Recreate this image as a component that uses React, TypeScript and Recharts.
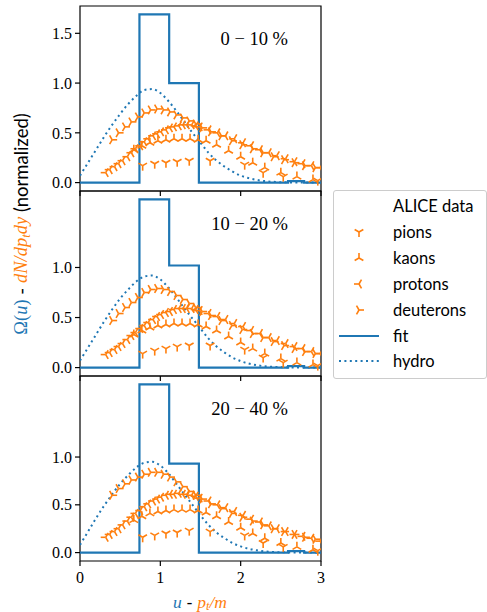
import React from 'react';
import { ComposedChart, Line, Scatter, XAxis, YAxis, ReferenceArea } from 'recharts';

const BLUE = '#1f77b4';
const ORANGE = '#ff7f0e';
const SERIF = '"Liberation Serif", "DejaVu Serif", serif';
const SANS = 'Lato, "Open Sans", sans-serif';

const xTicks = [0, 1, 2, 3];
const yTicksTop = [0, 0.5, 1, 1.5];
const yTicksLower = [0, 0.5, 1];
const panelLabels = ['0 − 10 %', '10 − 20 %', '20 − 40 %'];

// fit histogram (step edges)
const fitEdges = [0, 0.74, 1.11, 1.48, 2.59, 2.79, 3.0];
const fit010 = [0, 1.69, 1.0, 0, 0.015, 0, 0];
const fit1020 = [0, 1.68, 1.02, 0, 0.015, 0, 0];
const fit2040 = [0, 1.76, 0.93, 0, 0.015, 0, 0];

// hydro curve
const hydroX = [0, 0.1, 0.2, 0.3, 0.4, 0.5, 0.6, 0.7, 0.8, 0.9, 1.0, 1.1, 1.2, 1.3, 1.4, 1.5, 1.6, 1.7, 1.8, 1.9, 2.0, 2.1, 2.2, 2.3, 2.4, 2.6, 2.8, 3.0];
const hydro010 = [0.07, 0.2, 0.33, 0.46, 0.58, 0.69, 0.79, 0.87, 0.93, 0.94, 0.9, 0.82, 0.72, 0.61, 0.5, 0.4, 0.3, 0.22, 0.16, 0.11, 0.07, 0.045, 0.027, 0.015, 0.008, 0.002, 0, 0];
const hydro1020 = [0.07, 0.2, 0.33, 0.46, 0.58, 0.69, 0.78, 0.86, 0.91, 0.92, 0.88, 0.8, 0.7, 0.59, 0.49, 0.39, 0.29, 0.21, 0.15, 0.1, 0.065, 0.04, 0.024, 0.013, 0.007, 0.002, 0, 0];
const hydro2040 = [0.08, 0.22, 0.36, 0.49, 0.61, 0.72, 0.81, 0.89, 0.94, 0.95, 0.91, 0.83, 0.72, 0.61, 0.5, 0.39, 0.29, 0.21, 0.15, 0.1, 0.065, 0.04, 0.024, 0.013, 0.007, 0.002, 0, 0];

// ALICE data, x = pt/m
const pionX = [0.78, 0.93, 1.07, 1.21, 1.36, 1.62, 2.05, 2.28, 2.53, 2.96];
const pion010 = [0.17, 0.19, 0.2, 0.21, 0.22, 0.22, 0.18, 0.1, 0.06, 0.02];
const pion1020 = [0.14, 0.17, 0.19, 0.21, 0.22, 0.22, 0.18, 0.1, 0.05, 0.02];
const pion2040 = [0.16, 0.18, 0.2, 0.21, 0.23, 0.22, 0.18, 0.1, 0.06, 0.02];

const kaonX = [0.67, 0.77, 0.87, 0.97, 1.07, 1.17, 1.27, 1.37, 1.47, 1.57, 1.7, 1.85, 2.0, 2.15, 2.3, 2.5, 2.7, 2.9];
const kaon010 = [0.33, 0.37, 0.4, 0.42, 0.43, 0.44, 0.44, 0.44, 0.43, 0.42, 0.38, 0.32, 0.26, 0.2, 0.15, 0.1, 0.06, 0.03];
const kaon1020 = [0.33, 0.37, 0.4, 0.42, 0.43, 0.44, 0.44, 0.44, 0.43, 0.41, 0.37, 0.31, 0.25, 0.19, 0.14, 0.09, 0.05, 0.03];
const kaon2040 = [0.34, 0.38, 0.41, 0.43, 0.44, 0.45, 0.45, 0.45, 0.44, 0.42, 0.38, 0.32, 0.26, 0.2, 0.15, 0.1, 0.06, 0.03];

const protonX = [0.32, 0.37, 0.43, 0.48, 0.53, 0.59, 0.64, 0.69, 0.75, 0.8, 0.85, 0.91, 0.96, 1.01, 1.07, 1.12, 1.17, 1.23, 1.28, 1.33, 1.39, 1.44, 1.49, 1.6, 1.71, 1.81, 1.92, 2.03, 2.13, 2.24, 2.35, 2.45, 2.56, 2.67, 2.77, 2.88, 2.99];
const proton010 = [0.1, 0.13, 0.16, 0.19, 0.22, 0.26, 0.3, 0.34, 0.37, 0.41, 0.44, 0.47, 0.49, 0.51, 0.53, 0.55, 0.56, 0.57, 0.58, 0.58, 0.58, 0.57, 0.56, 0.53, 0.5, 0.47, 0.44, 0.4, 0.37, 0.33, 0.3, 0.27, 0.24, 0.21, 0.19, 0.17, 0.15];
const proton1020 = [0.13, 0.15, 0.18, 0.21, 0.24, 0.28, 0.32, 0.35, 0.39, 0.42, 0.45, 0.48, 0.51, 0.53, 0.55, 0.56, 0.58, 0.59, 0.59, 0.59, 0.59, 0.58, 0.57, 0.54, 0.51, 0.48, 0.44, 0.41, 0.37, 0.34, 0.3, 0.27, 0.24, 0.21, 0.19, 0.16, 0.14];
const proton2040 = [0.16, 0.19, 0.22, 0.25, 0.29, 0.33, 0.37, 0.41, 0.44, 0.48, 0.51, 0.54, 0.56, 0.58, 0.6, 0.61, 0.61, 0.62, 0.61, 0.61, 0.6, 0.59, 0.57, 0.54, 0.5, 0.47, 0.43, 0.39, 0.35, 0.32, 0.28, 0.25, 0.22, 0.19, 0.17, 0.15, 0.12];

const deutX = [0.4, 0.48, 0.56, 0.64, 0.72, 0.8, 0.88, 0.96, 1.04, 1.12, 1.2, 1.28, 1.36, 1.44, 1.52, 1.63, 1.76, 1.89, 2.02, 2.15, 2.28, 2.41, 2.54, 2.67, 2.8, 2.93];
const deut010 = [0.43, 0.5, 0.56, 0.61, 0.66, 0.7, 0.73, 0.74, 0.73, 0.71, 0.68, 0.65, 0.62, 0.59, 0.55, 0.51, 0.47, 0.42, 0.38, 0.34, 0.3, 0.26, 0.23, 0.2, 0.17, 0.15];
const deut1020 = [0.47, 0.54, 0.6, 0.65, 0.7, 0.75, 0.78, 0.79, 0.78, 0.76, 0.72, 0.68, 0.64, 0.6, 0.56, 0.52, 0.47, 0.42, 0.38, 0.34, 0.3, 0.26, 0.22, 0.19, 0.16, 0.14];
const deut2040 = [0.6, 0.67, 0.72, 0.76, 0.79, 0.82, 0.84, 0.84, 0.82, 0.79, 0.74, 0.69, 0.64, 0.6, 0.56, 0.51, 0.46, 0.41, 0.37, 0.33, 0.29, 0.25, 0.22, 0.19, 0.16, 0.14];

const fits = [fit010, fit1020, fit2040];
const hydros = [hydro010, hydro1020, hydro2040];
const pions = [pion010, pion1020, pion2040];
const kaons = [kaon010, kaon1020, kaon2040];
const protons = [proton010, proton1020, proton2040];
const deuterons = [deut010, deut1020, deut2040];

const pts = (xs: number[], ys: number[]) => xs.map((x, i) => ({ x, y: ys[i] }));

// matplotlib tri markers: arm directions in degrees
const TRI_DOWN = [-90, 30, 150];
const TRI_UP = [90, -30, -150];
const TRI_LEFT = [180, 60, -60];
const TRI_RIGHT = [0, 120, -120];

const Tri = ({ cx, cy, angles }: { cx: number; cy: number; angles: number[] }) => (
  <g>
    {angles.map((a) => {
      const t = (a * Math.PI) / 180;
      return (
        <line key={a} x1={cx} y1={cy} x2={cx + 5 * Math.cos(t)} y2={cy - 5 * Math.sin(t)}
          stroke={ORANGE} strokeWidth={1.6} />
      );
    })}
  </g>
);

const triShape = (angles: number[]) => (p: any) => <Tri cx={p.cx} cy={p.cy} angles={angles} />;

const panelTops = [6, 191, 376];
const PLOT_H = 185;

const Panel = ({ i }: { i: number }) => {
  const last = i === 2;
  const ymax = Math.max(...fits[i]);
  const domain = [-0.05 * ymax, 1.05 * ymax];
  const mt = 4;
  const xh = last ? 30 : 8;
  const tickFont = { fill: '#000', fontSize: 16, fontFamily: SERIF };
  return (
    <div style={{ position: 'absolute', left: 0, top: panelTops[i] - mt }}>
      <ComposedChart width={330} height={mt + PLOT_H + xh} margin={{ top: mt, right: 9, bottom: 0, left: 30 }}>
        <XAxis type="number" dataKey="x" domain={[0, 3]} ticks={xTicks} allowDataOverflow
          axisLine={false} tickSize={5} tickMargin={6} height={xh}
          tickLine={{ stroke: '#000', strokeWidth: 1.2 }}
          tick={tickFont} tickFormatter={(v: number) => (last ? String(v) : '')} />
        <YAxis type="number" dataKey="y" domain={domain} ticks={i === 0 ? yTicksTop : yTicksLower}
          allowDataOverflow axisLine={false} tickSize={5} tickMargin={3} width={50}
          tickLine={{ stroke: '#000', strokeWidth: 1.2 }}
          tick={tickFont} tickFormatter={(v: number) => v.toFixed(1)} />
        <Line data={pts(fitEdges, fits[i])} dataKey="y" type="stepAfter" stroke={BLUE} strokeWidth={2.2}
          dot={false} isAnimationActive={false} />
        <Line data={pts(hydroX, hydros[i])} dataKey="y" type="monotone" stroke={BLUE} strokeWidth={2}
          strokeDasharray="2 3.4" dot={false} isAnimationActive={false} />
        <Scatter data={pts(pionX, pions[i])} dataKey="y" shape={triShape(TRI_DOWN)} isAnimationActive={false} />
        <Scatter data={pts(kaonX, kaons[i])} dataKey="y" shape={triShape(TRI_UP)} isAnimationActive={false} />
        <Scatter data={pts(protonX, protons[i])} dataKey="y" shape={triShape(TRI_LEFT)} isAnimationActive={false} />
        <Scatter data={pts(deutX, deuterons[i])} dataKey="y" shape={triShape(TRI_RIGHT)} isAnimationActive={false} />
        <ReferenceArea x1={0} x2={3} y1={domain[0]} y2={domain[1]} fill="none" stroke="#000" strokeWidth={1.2} />
      </ComposedChart>
      <div style={{
        position: 'absolute', right: 330 - 288, top: mt + 33, transform: 'translateY(-50%)',
        fontFamily: SERIF, fontSize: 18.5, whiteSpace: 'pre', lineHeight: 1,
      }}>{panelLabels[i]}</div>
    </div>
  );
};

const legendRows = [
  { label: 'ALICE data', kind: 'none' },
  { label: 'pions', kind: 'tri', angles: TRI_DOWN },
  { label: 'kaons', kind: 'tri', angles: TRI_UP },
  { label: 'protons', kind: 'tri', angles: TRI_LEFT },
  { label: 'deuterons', kind: 'tri', angles: TRI_RIGHT },
  { label: 'fit', kind: 'solid' },
  { label: 'hydro', kind: 'dotted' },
];

const Legend = () => (
  <div style={{
    position: 'absolute', left: 333, top: 190, width: 152, height: 187,
    border: '1px solid #cccccc', borderRadius: 3, background: '#fff',
  }}>
    {legendRows.map((r, k) => (
      <div key={r.label} style={{ position: 'absolute', left: 0, top: 15 + 25.9 * k - 13, height: 26, width: 152 }}>
        <svg width={50} height={26} style={{ position: 'absolute', left: 0, top: 0 }}>
          {r.kind === 'tri' && <Tri cx={25} cy={13} angles={r.angles as number[]} />}
          {r.kind === 'solid' && <line x1={5} y1={13} x2={45} y2={13} stroke={BLUE} strokeWidth={2.2} />}
          {r.kind === 'dotted' && <line x1={5} y1={13} x2={45} y2={13} stroke={BLUE} strokeWidth={2} strokeDasharray="2 3.4" />}
        </svg>
        <div style={{
          position: 'absolute', left: 59, top: 13, transform: 'translateY(-50%)',
          fontFamily: SANS, fontSize: 16.5, lineHeight: 1, whiteSpace: 'pre',
        }}>{r.label}</div>
      </div>
    ))}
  </div>
);

const AxisLabels = () => (
  <svg width={487} height={612} style={{ position: 'absolute', left: 0, top: 0, pointerEvents: 'none' }}>
    <text transform="translate(21 224) rotate(-90)" textAnchor="middle" dominantBaseline="central" fontSize={18.5}>
      <tspan fill={BLUE} fontFamily={SERIF}>Ω(</tspan>
      <tspan fill={BLUE} fontFamily={SERIF} fontStyle="italic">u</tspan>
      <tspan fill={BLUE} fontFamily={SERIF}>)</tspan>
      <tspan fill="#000" fontFamily={SANS}>{' - '}</tspan>
      <tspan fill={ORANGE} fontFamily={SERIF} fontStyle="italic">dN/dp</tspan>
      <tspan fill={ORANGE} fontFamily={SERIF} fontStyle="italic" fontSize={13} dy={4}>t</tspan>
      <tspan fill={ORANGE} fontFamily={SERIF} fontStyle="italic" dy={-4}>dy</tspan>
      <tspan fill="#000" fontFamily={SANS}>{' (normalized)'}</tspan>
    </text>
    <text x={200} y={602} textAnchor="middle" dominantBaseline="central" fontSize={17.5}>
      <tspan fill={BLUE} fontFamily={SERIF} fontStyle="italic">u</tspan>
      <tspan fill="#000" fontFamily={SANS}>{' - '}</tspan>
      <tspan fill={ORANGE} fontFamily={SERIF} fontStyle="italic">p</tspan>
      <tspan fill={ORANGE} fontFamily={SERIF} fontStyle="italic" fontSize={12.5} dy={4}>t</tspan>
      <tspan fill={ORANGE} fontFamily={SERIF} fontStyle="italic" dy={-4}>/m</tspan>
    </text>
  </svg>
);

export default function App() {
  return (
    <div style={{ position: 'absolute', left: 0, top: 0, width: 487, height: 612, background: '#fff', overflow: 'hidden' }}>
      {[0, 1, 2].map((i) => <Panel key={i} i={i} />)}
      <Legend />
      <AxisLabels />
    </div>
  );
}
